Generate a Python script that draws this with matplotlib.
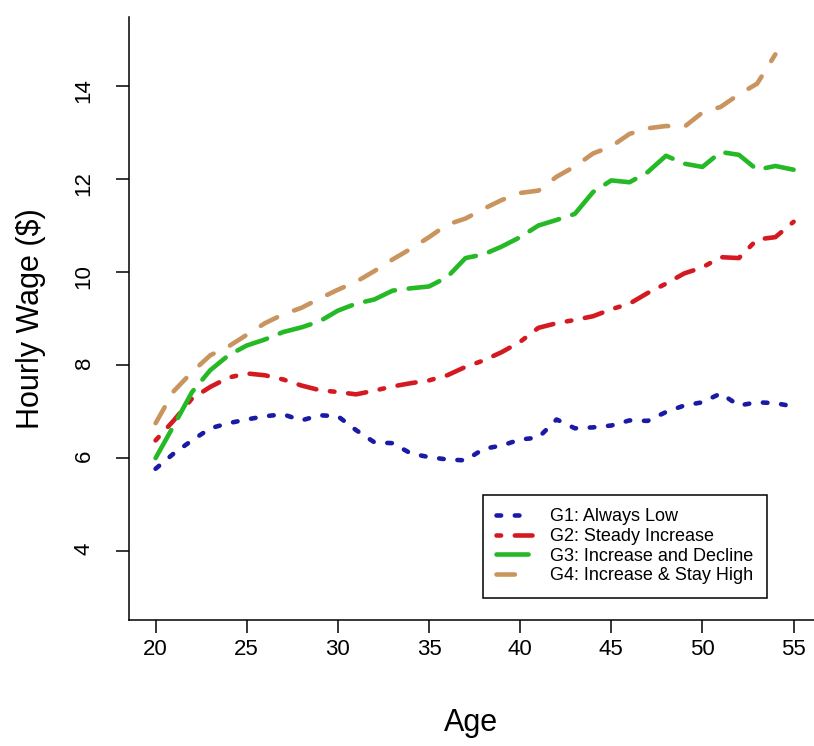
import matplotlib.pyplot as plt
import numpy as np

plt.rcParams['font.family'] = ['Liberation Sans', 'DejaVu Sans']

ages = np.arange(20, 56)
g1_low = [5.77, 6.10, 6.38, 6.64, 6.75, 6.83, 6.90, 6.94, 6.81, 6.92,
          6.90, 6.60, 6.34, 6.32, 6.10, 6.02, 5.97, 5.95, 6.20, 6.27,
          6.40, 6.44, 6.83, 6.64, 6.66, 6.70, 6.81, 6.80, 6.99, 7.13,
          7.20, 7.39, 7.13, 7.20, 7.18, 7.11]
g2_steady = [6.38, 6.81, 7.28, 7.53, 7.73, 7.82, 7.78, 7.69, 7.56, 7.46,
             7.42, 7.37, 7.45, 7.54, 7.61, 7.67, 7.78, 7.96, 8.10, 8.28,
             8.50, 8.80, 8.90, 8.97, 9.05, 9.20, 9.32, 9.55, 9.75, 9.97,
             10.10, 10.32, 10.30, 10.70, 10.75, 11.08]
g3_decline = [6.00, 6.70, 7.42, 7.89, 8.21, 8.42, 8.55, 8.71, 8.81, 8.94,
              9.17, 9.32, 9.41, 9.60, 9.65, 9.69, 9.89, 10.30, 10.38, 10.55,
              10.75, 11.00, 11.12, 11.25, 11.72, 11.97, 11.93, 12.15, 12.50, 12.33,
              12.26, 12.58, 12.52, 12.20, 12.28, 12.20]
g4_high = [6.75, 7.44, 7.85, 8.21, 8.40, 8.65, 8.90, 9.09, 9.23, 9.43,
           9.62, 9.79, 10.02, 10.27, 10.50, 10.75, 11.02, 11.15, 11.36, 11.55,
           11.70, 11.75, 12.05, 12.27, 12.55, 12.70, 12.97, 13.09, 13.14, 13.12,
           13.43, 13.55, 13.82, 14.05, 14.68, np.nan]

series = [g1_low, g2_steady, g3_decline, g4_high]
labels = ['G1: Always Low', 'G2: Steady Increase',
          'G3: Increase and Decline', 'G4: Increase & Stay High']
colors = ['#1a1aa6', '#d41a20', '#26b926', '#c9945e']
# R style lty patterns: dotted, dotdash, longdash, dashed
patterns = [(1, 3), (1, 3, 4, 3), (7, 3), (4, 4)]

fig = plt.figure(figsize=(8.14, 7.46), dpi=100)
ax = fig.add_axes([0.158, 0.169, 0.842, 0.808])

for vals, lab, col, pat in zip(series, labels, colors, patterns):
    ax.plot(ages, vals, color=col, lw=3.3, linestyle=(0, pat),
            dash_capstyle='round', solid_capstyle='round', label=lab)

ax.set_xlim(18.52, 56.12)
ax.set_ylim(2.52, 15.48)
ax.set_xticks(range(20, 56, 5))
ax.set_yticks([4, 6, 8, 10, 12, 14])

for s in ['top', 'right']:
    ax.spines[s].set_visible(False)
for s in ['left', 'bottom']:
    ax.spines[s].set_linewidth(1.1)

ax.tick_params(length=9.5, width=1.1, labelsize=16, direction='out')
ax.tick_params(axis='x', pad=4)
ax.tick_params(axis='y', labelrotation=90, pad=15)

ax.set_xlabel('Age', fontsize=22, labelpad=35)
ax.set_ylabel('Hourly Wage ($)', fontsize=22, labelpad=20)

leg = ax.legend(loc='lower left', bbox_to_anchor=(0.517, 0.0365),
                fontsize=13, handlelength=1.95, handletextpad=1.0,
                labelspacing=0.15, borderpad=0.75, borderaxespad=0,
                fancybox=False, framealpha=1)
leg.get_frame().set_edgecolor('black')
leg.get_frame().set_linewidth(1.1)

fig.savefig('out.png', dpi=100)
